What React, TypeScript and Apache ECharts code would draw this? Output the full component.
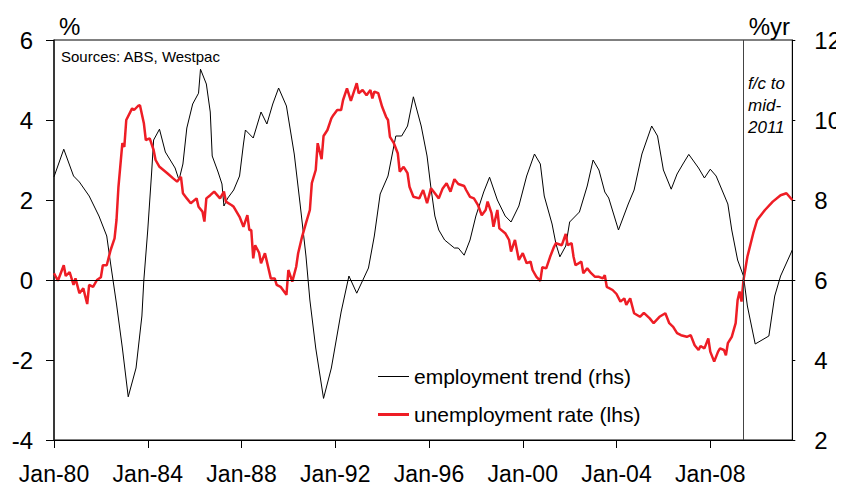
import React, { useEffect, useRef } from "react";
import * as echarts from "echarts";

// Monthly categories Jan-80 .. Jul-11
const MONTHS = ["Jan","Feb","Mar","Apr","May","Jun","Jul","Aug","Sep","Oct","Nov","Dec"];
const categories: string[] = [];
for (let y = 1980; y <= 2011; y++) {
  for (let m = 0; m < 12; m++) {
    if (y === 2011 && m > 6) break;
    categories.push(MONTHS[m] + "-" + String(y).slice(2));
  }
}

// employment trend (% yr, left scale) — month offsets from Jan-80
const empMonths = [0,5,10,13,18,23,27,29,32,35,38,42,45,46,48,50,51,54,57,62,64,66,68,71,74,75,78,80,81,84,86,87,89,92,95,97,98,102,106,109,112,115,119,123,126,129,131,134,138,142,147,151,155,161,164,167,171,173,175,178,181,184,188,191,193,195,197,200,205,207,210,213,216,220,223,227,231,234,238,242,246,249,251,255,257,259,262,264,269,273,276,279,282,284,289,294,297,301,306,309,312,316,319,322,325,330,333,336,339,342,345,347,350,353,355,359,366,369,372,378];
const empValues = [2.58,3.27,2.6,2.45,2.1,1.6,1.1,0.4,-0.6,-1.7,-2.92,-2.2,-0.9,0.0,1.25,2.7,3.5,3.77,3.2,2.8,2.5,2.9,3.8,4.4,4.67,5.27,4.9,4.2,3.1,2.7,2.4,1.85,2.05,2.25,2.6,3.4,3.75,3.55,4.2,3.9,4.4,4.8,4.35,3.15,1.9,0.6,-0.5,-1.7,-2.96,-2.2,-0.8,0.1,-0.33,0.3,1.1,2.15,2.6,3.1,3.6,3.6,3.85,4.58,3.85,3.1,2.3,1.6,1.25,1.0,0.8,0.8,0.62,1.0,1.6,2.2,2.57,2.0,1.6,1.45,1.85,2.6,3.15,2.9,2.1,1.4,0.9,0.58,0.85,1.45,1.7,2.35,3.0,2.75,2.2,2.05,1.25,1.9,2.25,3.15,3.85,3.6,2.75,2.27,2.65,2.9,3.14,2.8,2.55,2.77,2.6,2.25,1.9,1.25,0.5,0.1,-0.65,-1.6,-1.4,-0.4,0.1,0.75];

// unemployment rate (%, right scale) — month offsets from Jan-80
const unMonths = [0,2,5,6,8,10,11,13,15,17,18,20,22,24,25,27,29,31,32,33,35,36,37,40,41,43,44,46,47,49,51,52,54,56,58,61,63,65,66,68,70,73,74,76,77,78,80,82,85,87,88,91,92,95,97,99,100,101,102,103,105,106,108,109,111,113,114,116,119,120,122,124,125,127,129,131,132,134,135,137,138,140,142,143,145,147,148,150,152,155,156,158,160,162,163,164,166,168,170,171,172,174,176,177,179,181,182,184,187,189,191,193,195,197,199,201,203,205,207,210,211,213,215,217,219,221,222,224,225,227,228,231,233,234,236,238,240,242,244,245,247,249,250,252,254,256,257,260,262,263,265,266,267,270,271,273,275,277,279,281,282,283,286,288,290,292,293,295,297,300,302,305,307,310,313,315,317,319,321,324,326,328,330,331,333,335,336,338,340,341,343,344,345,347,349,350,351,352,353,355,358,360,364,368,372,375,378];
const unValues = [6.17,5.98,6.37,6.1,6.2,5.88,6.04,5.67,5.79,5.4,5.88,5.83,6.0,6.07,6.37,6.37,6.75,7.04,7.5,8.33,9.42,9.33,10.0,10.29,10.25,10.35,10.37,9.92,9.5,9.54,9.25,9.0,8.83,8.75,8.67,8.54,8.46,8.58,8.17,8.04,7.92,8.04,7.83,7.71,7.46,8.04,8.12,8.21,8.04,8.21,7.96,7.87,7.83,7.58,7.33,7.62,7.25,7.25,6.54,6.87,6.68,6.42,6.67,6.46,6.04,6.04,5.88,5.83,5.63,6.25,5.96,6.33,6.67,7.08,7.42,7.75,8.42,8.75,9.42,9.02,9.6,9.75,10.04,10.12,10.25,10.25,10.5,10.79,10.48,10.92,10.67,10.75,10.62,10.75,10.54,10.71,10.67,10.33,10.08,10.0,9.58,9.42,9.17,8.71,8.83,8.67,8.33,8.08,8.04,8.25,7.92,8.29,8.17,8.04,8.29,8.42,8.21,8.52,8.4,8.35,8.25,8.08,8.04,7.88,7.62,7.75,7.96,7.67,7.33,7.75,7.29,7.17,7.0,6.71,7.0,6.5,6.67,6.42,6.46,6.25,6.08,5.98,6.32,6.29,6.58,6.83,6.92,6.87,7.15,6.87,6.92,6.58,6.37,6.46,6.17,6.29,6.17,6.08,6.08,6.04,6.12,5.83,5.75,5.65,5.46,5.54,5.38,5.54,5.17,5.08,5.18,5.04,4.92,5.08,5.17,4.92,4.83,4.67,4.62,4.58,4.62,4.37,4.25,4.35,4.29,4.54,4.21,3.96,4.21,4.29,4.25,4.12,4.42,4.58,4.92,5.5,5.71,5.46,6.0,6.58,7.17,7.5,7.75,7.96,8.12,8.17,8.0];

const forecastStart = 353; // month offset of forecast divider
const leftTicks = { min: -4, max: 6, interval: 2 };
const rightTicks = { min: 2, max: 12, interval: 2 };

const FONT = '"Liberation Sans", Arial, sans-serif';

export default function App() {
  const ref = useRef<HTMLDivElement>(null);
  useEffect(() => {
    if (!ref.current) return;
    const chart = echarts.init(ref.current, null, { renderer: "svg" });
    const labelStyle = { color: "#000", fontSize: 24, fontFamily: FONT };
    chart.setOption({
      animation: false,
      backgroundColor: "#fff",
      grid: { left: 54, right: 49, top: 40, bottom: 50, show: true, borderColor: "#000", borderWidth: 1 },
      legend: {
        orient: "vertical",
        left: 378,
        top: 366,
        padding: 0,
        itemWidth: 31,
        itemHeight: 14,
        itemGap: 17,
        symbolKeepAspect: true,
        textStyle: { color: "#000", fontSize: 21, fontFamily: FONT },
        data: [
          { name: "employment trend (rhs)", icon: "path://M0,0h31v1h-31z" },
          { name: "unemployment rate (lhs)", icon: "path://M0,0h31v3h-31z" },
        ],
      },
      xAxis: {
        type: "category",
        data: categories,
        boundaryGap: false,
        axisLine: { onZero: false, lineStyle: { color: "#000", width: 1 } },
        axisTick: { interval: 47, length: 8, lineStyle: { color: "#000" } },
        axisLabel: { interval: 47, margin: 22, ...labelStyle, fontSize: 23 },
        splitLine: { show: false },
      },
      yAxis: [
        {
          type: "value",
          ...leftTicks,
          axisLine: { show: true, lineStyle: { color: "#222", width: 1.5 } },
          axisTick: { show: true, length: 8, lineStyle: { color: "#000" } },
          axisLabel: { margin: 21, ...labelStyle },
          splitLine: { show: false },
        },
        {
          type: "value",
          ...rightTicks,
          position: "right",
          axisLine: { show: true, lineStyle: { color: "#000", width: 1 } },
          axisTick: { show: true, length: 3, lineStyle: { color: "#000" } },
          axisLabel: { margin: 22, ...labelStyle },
          splitLine: { show: false },
        },
      ],
      graphic: [
        { type: "text", left: 61, top: 49, style: { text: "Sources: ABS, Westpac", font: `15px ${FONT}`, fill: "#000" } },
        { type: "text", left: 59, top: 14, style: { text: "%", font: `24px ${FONT}`, fill: "#000" } },
        { type: "text", right: 54, top: 14, style: { text: "%yr", font: `24px ${FONT}`, fill: "#000" } },
        {
          type: "text",
          left: 748,
          top: 72,
          style: { text: "f/c to\nmid-\n2011", font: `italic 17px ${FONT}`, lineHeight: 22, fill: "#000" },
        },
      ],
      series: [
        {
          name: "employment trend (rhs)",
          type: "line",
          yAxisIndex: 0,
          symbol: "none",
          lineStyle: { color: "#000", width: 1 },
          itemStyle: { color: "#000" },
          data: empMonths.map((m, i) => [m, empValues[i]]),
          z: 3,
          markLine: {
            silent: true,
            symbol: "none",
            label: { show: false },
            data: [
              { yAxis: 0, lineStyle: { color: "#000", width: 1, type: "solid" } },
              { xAxis: forecastStart, lineStyle: { color: "#444", width: 1, type: "solid" } },
            ],
          },
        },
        {
          name: "unemployment rate (lhs)",
          type: "line",
          yAxisIndex: 1,
          symbol: "none",
          lineStyle: { color: "#ee1d25", width: 2.5 },
          itemStyle: { color: "#ee1d25" },
          data: unMonths.map((m, i) => [m, unValues[i]]),
          z: 4,
        },
      ],
    });
    return () => chart.dispose();
  }, []);
  return <div ref={ref} style={{ width: 844, height: 490, margin: -8 }} />;
}
